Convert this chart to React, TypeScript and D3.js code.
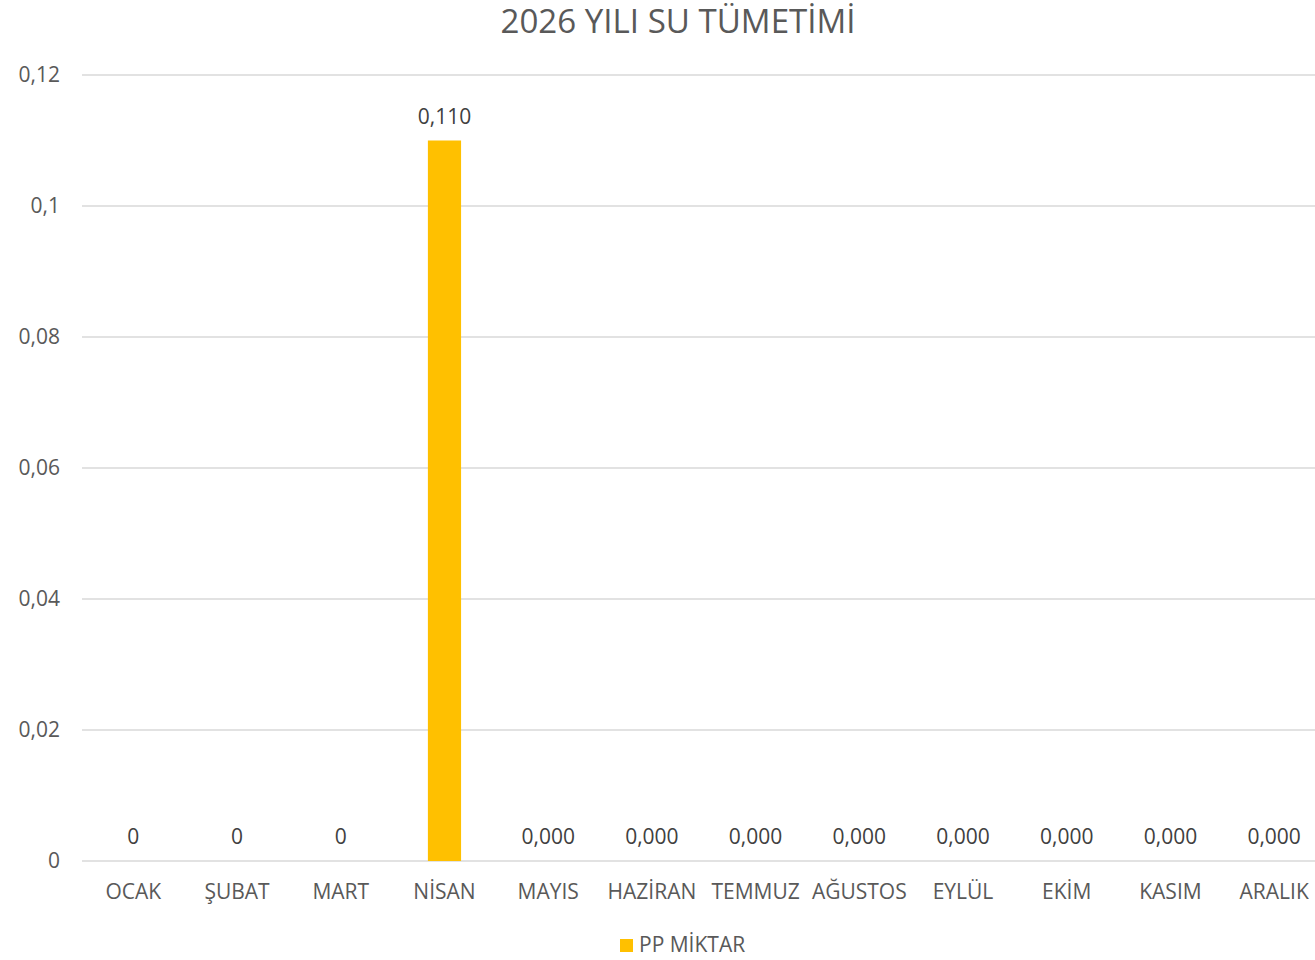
import React from "react";
import * as d3 from "d3";

const categories = ["OCAK", "ŞUBAT", "MART", "NİSAN", "MAYIS", "HAZİRAN", "TEMMUZ", "AĞUSTOS", "EYLÜL", "EKİM", "KASIM", "ARALIK"];
const values = [0, 0, 0, 0.11, 0, 0, 0, 0, 0, 0, 0, 0];
const dataLabels = ["0", "0", "0", "0,110", "0,000", "0,000", "0,000", "0,000", "0,000", "0,000", "0,000", "0,000"];
const yTicks = [0, 0.02, 0.04, 0.06, 0.08, 0.1, 0.12];
const yTickLabels = ["0", "0,02", "0,04", "0,06", "0,08", "0,1", "0,12"];
const seriesName = "PP MİKTAR";
const title = "2026 YILI SU TÜMETİMİ";

const W = 1315;
const H = 960;
const FONT = "'Open Sans', 'Noto Sans', sans-serif";

export default function App() {
  const x = d3.scaleBand<string>().domain(categories).range([81.5, 1326]).paddingInner(0.68).paddingOuter(0.34);
  const xc = d3.scaleBand<string>().domain(categories).range([81.5, 1326]);
  const y = d3.scaleLinear().domain([0, 0.12]).range([861, 75]);

  return (
    <svg width={W} height={H} style={{ position: "absolute", left: 0, top: 0, background: "#fff" }} fontFamily={FONT}>
      <text x={678} y={33} textAnchor="middle" fontSize={32} fill="#595959" textLength={355} lengthAdjust="spacingAndGlyphs">
        {title}
      </text>
      {yTicks.map((t, i) => (
        <g key={i}>
          <line x1={82} x2={1315} y1={y(t)} y2={y(t)} stroke="#d9d9d9" strokeWidth={1.5} />
          <text x={60} y={y(t)} dy="0.35em" textAnchor="end" fontSize={21} fill="#595959">
            {yTickLabels[i]}
          </text>
        </g>
      ))}
      {categories.map((c, i) => {
        const cx = xc(c)! + xc.bandwidth() / 2;
        return (
          <g key={c}>
            {values[i] > 0 && (
              <rect x={x(c)!} y={y(values[i])} width={x.bandwidth()} height={y(0) - y(values[i])} fill="#ffc000" />
            )}
            <text x={cx} y={y(values[i]) - 17} textAnchor="middle" fontSize={21} fill="#404040">
              {dataLabels[i]}
            </text>
            <text x={cx} y={899} textAnchor="middle" fontSize={21} fill="#595959">
              {c}
            </text>
          </g>
        );
      })}
      <rect x={620} y={939} width={13} height={13} fill="#ffc000" />
      <text x={639} y={952} fontSize={21} fill="#595959">
        {seriesName}
      </text>
    </svg>
  );
}
